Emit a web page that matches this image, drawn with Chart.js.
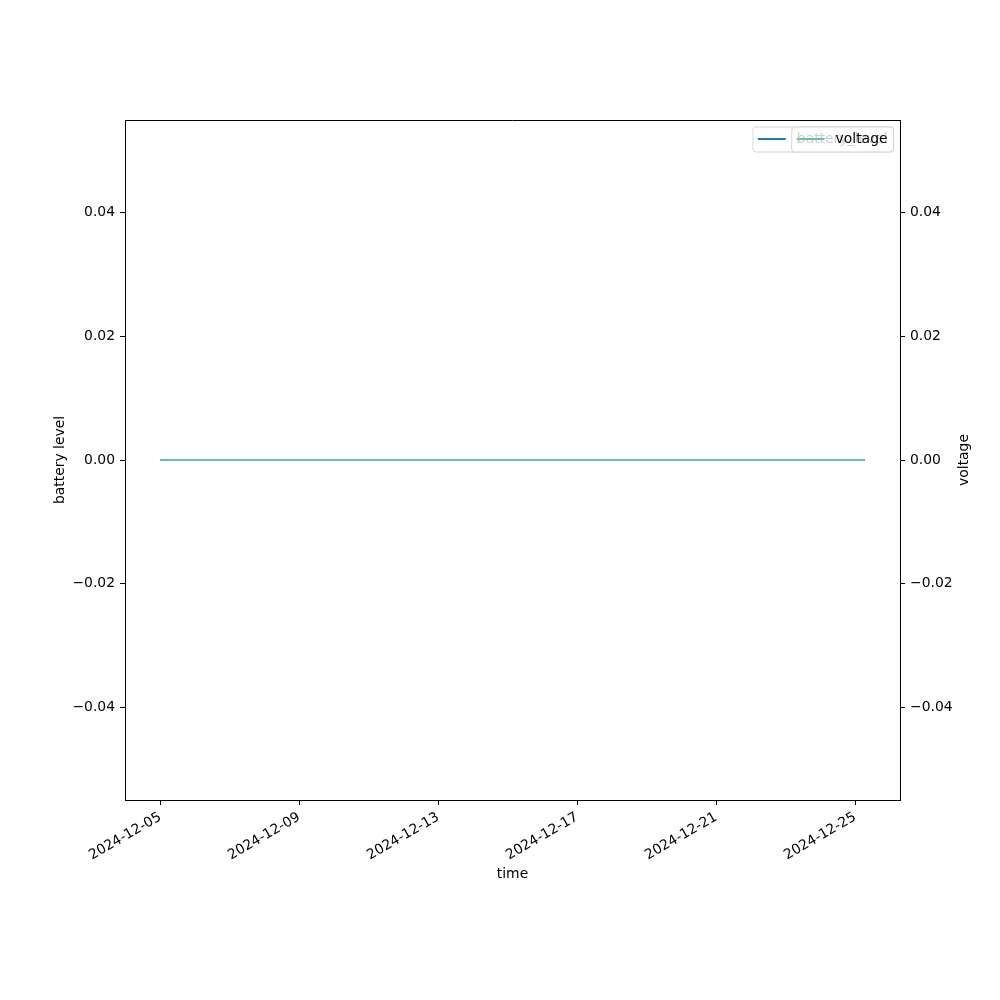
<!DOCTYPE html>
<html>
<head>
<meta charset="utf-8">
<script src="https://cdn.jsdelivr.net/npm/chart.js@4/dist/chart.umd.min.js"></script>
<style>
  html, body { margin: 0; padding: 0; background: #fff; }
  #wrap { width: 1000px; height: 1000px; position: relative; }
</style>
</head>
<body>
<div id="wrap"><canvas id="c" width="1000" height="1000"></canvas></div>
<script>
// ---- data ----
const times = [
  "2024-12-05T00:00", "2024-12-07T00:00", "2024-12-09T00:00", "2024-12-11T00:00",
  "2024-12-13T00:00", "2024-12-15T00:00", "2024-12-17T00:00", "2024-12-19T00:00",
  "2024-12-21T00:00", "2024-12-23T00:00", "2024-12-25T06:40"
];
const batteryLevel = [0, 0, 0, 0, 0, 0, 0, 0, 0, 0, 0];
const voltage = [0, 0, 0, 0, 0, 0, 0, 0, 0, 0, 0];
const xTickDates = ["2024-12-05", "2024-12-09", "2024-12-13", "2024-12-17", "2024-12-21", "2024-12-25"];
const yTicks = [-0.04, -0.02, 0.00, 0.02, 0.04];
const seriesNames = ["battery_level", "voltage"];
const axisTitles = { x: "time", y: "battery level", y2: "voltage" };

// ---- helpers ----
const toMs = s => Date.parse(s + (s.length === 10 ? "T00:00:00Z" : ":00Z"));
const xs = times.map(toMs);
const xMinData = Math.min(...xs), xMaxData = Math.max(...xs);
const xMargin = (xMaxData - xMinData) * 0.05;
const tickMs = xTickDates.map(toMs);
const fmtDate = v => {
  const d = new Date(v);
  const p = n => String(n).padStart(2, "0");
  return d.getUTCFullYear() + "-" + p(d.getUTCMonth() + 1) + "-" + p(d.getUTCDate());
};
const fmtY = v => {
  const s = Math.abs(v).toFixed(2);
  return (v < -1e-9 ? "\u2212" : "") + s;
};
const FONT = { family: "DejaVu Sans", size: 13.9 };
const blue = "#1f77b4", green = "#66c2a5";

const batteryPts = xs.map((x, i) => ({ x, y: batteryLevel[i] }));
const voltagePts = xs.map((x, i) => ({ x, y: voltage[i] }));

const yCommon = {
  min: -0.055, max: 0.055,
  grid: { drawOnChartArea: false, drawTicks: true, tickLength: 5, tickColor: "#000", tickWidth: 1 },
  border: { display: true, color: "#000", width: 1 },
  afterBuildTicks: s => { s.ticks = yTicks.map(v => ({ value: v })); },
  ticks: { color: "#000", font: FONT, padding: 5, callback: v => fmtY(v) }
};

const frame = {
  id: "frame",
  afterDatasetsDraw(chart) {
    const { ctx, chartArea: a } = chart;
    ctx.save();
    ctx.strokeStyle = "#000";
    ctx.lineWidth = 1;
    ctx.beginPath();
    ctx.moveTo(a.left, a.top + 0.5);
    ctx.lineTo(a.right, a.top + 0.5);
    ctx.stroke();
    ctx.restore();
  },
  afterDraw(chart) {
    const { ctx, chartArea: a } = chart;
    ctx.save();
    ctx.font = FONT.size + "px " + FONT.family;
    // right axis title, reading bottom-to-top
    ctx.save();
    ctx.translate(a.right + 64, (a.top + a.bottom) / 2);
    ctx.rotate(-Math.PI / 2);
    ctx.fillStyle = "#000";
    ctx.textAlign = "center";
    ctx.textBaseline = "middle";
    ctx.fillText(axisTitles.y2, 0, 0);
    ctx.restore();

    const drawLegend = (label, color) => {
      const tw = ctx.measureText(label).width;
      const right = a.right - 7;
      const w = 5.5 + 27.8 + 11.1 + tw + 5.5;
      const left = right - w;
      const top = a.top + 6.5, h = 25;
      ctx.beginPath();
      if (ctx.roundRect) ctx.roundRect(left + 0.5, top + 0.5, w, h, 3); else ctx.rect(left + 0.5, top + 0.5, w, h);
      ctx.fillStyle = "rgba(255,255,255,0.8)";
      ctx.fill();
      ctx.strokeStyle = "rgba(204,204,204,0.8)";
      ctx.lineWidth = 1;
      ctx.stroke();
      const cy = top + h / 2;
      ctx.beginPath();
      ctx.moveTo(left + 5.5, cy);
      ctx.lineTo(left + 5.5 + 27.8, cy);
      ctx.strokeStyle = color;
      ctx.lineWidth = 2;
      ctx.stroke();
      ctx.fillStyle = "#000";
      ctx.textBaseline = "middle";
      ctx.textAlign = "left";
      ctx.fillText(label, left + 5.5 + 27.8 + 11.1, cy);
    };
    drawLegend(seriesNames[0], blue);
    drawLegend(seriesNames[1], green);
    ctx.restore();
  }
};

new Chart(document.getElementById("c"), {
  type: "line",
  data: {
    datasets: [
      { label: seriesNames[0], data: batteryPts, yAxisID: "y", borderColor: blue, borderWidth: 2, pointRadius: 0, tension: 0, order: 2 },
      { label: seriesNames[1], data: voltagePts, yAxisID: "y2", borderColor: green, borderWidth: 2, pointRadius: 0, tension: 0, order: 1 }
    ]
  },
  options: {
    responsive: false,
    animation: false,
    layout: { padding: { top: 120, left: 0, right: 0, bottom: 0 } },
    plugins: { legend: { display: false }, tooltip: { enabled: false } },
    scales: {
      x: {
        type: "linear",
        min: xMinData - xMargin,
        max: xMaxData + xMargin,
        afterBuildTicks: s => { s.ticks = tickMs.map(v => ({ value: v })); },
        afterFit: s => { s.height = 200; },
        grid: { drawOnChartArea: false, drawTicks: true, tickLength: 5, tickColor: "#000", tickWidth: 1 },
        border: { display: true, color: "#000", width: 1 },
        ticks: { color: "#000", font: FONT, padding: 4, maxRotation: 30, minRotation: 30, autoSkip: false, callback: v => fmtDate(v) },
        title: { display: true, text: axisTitles.x, color: "#000", font: FONT, padding: { top: 0, bottom: 117 } }
      },
      y: Object.assign({}, yCommon, {
        position: "left",
        afterFit: s => { s.width = 125; },
        title: { display: true, text: axisTitles.y, color: "#000", font: FONT, padding: { top: 52, bottom: 0 } }
      }),
      y2: Object.assign({}, yCommon, {
        position: "right",
        afterFit: s => { s.width = 100; },
        title: { display: false, text: axisTitles.y2 }
      })
    }
  },
  plugins: [frame]
});
</script>
</body>
</html>
